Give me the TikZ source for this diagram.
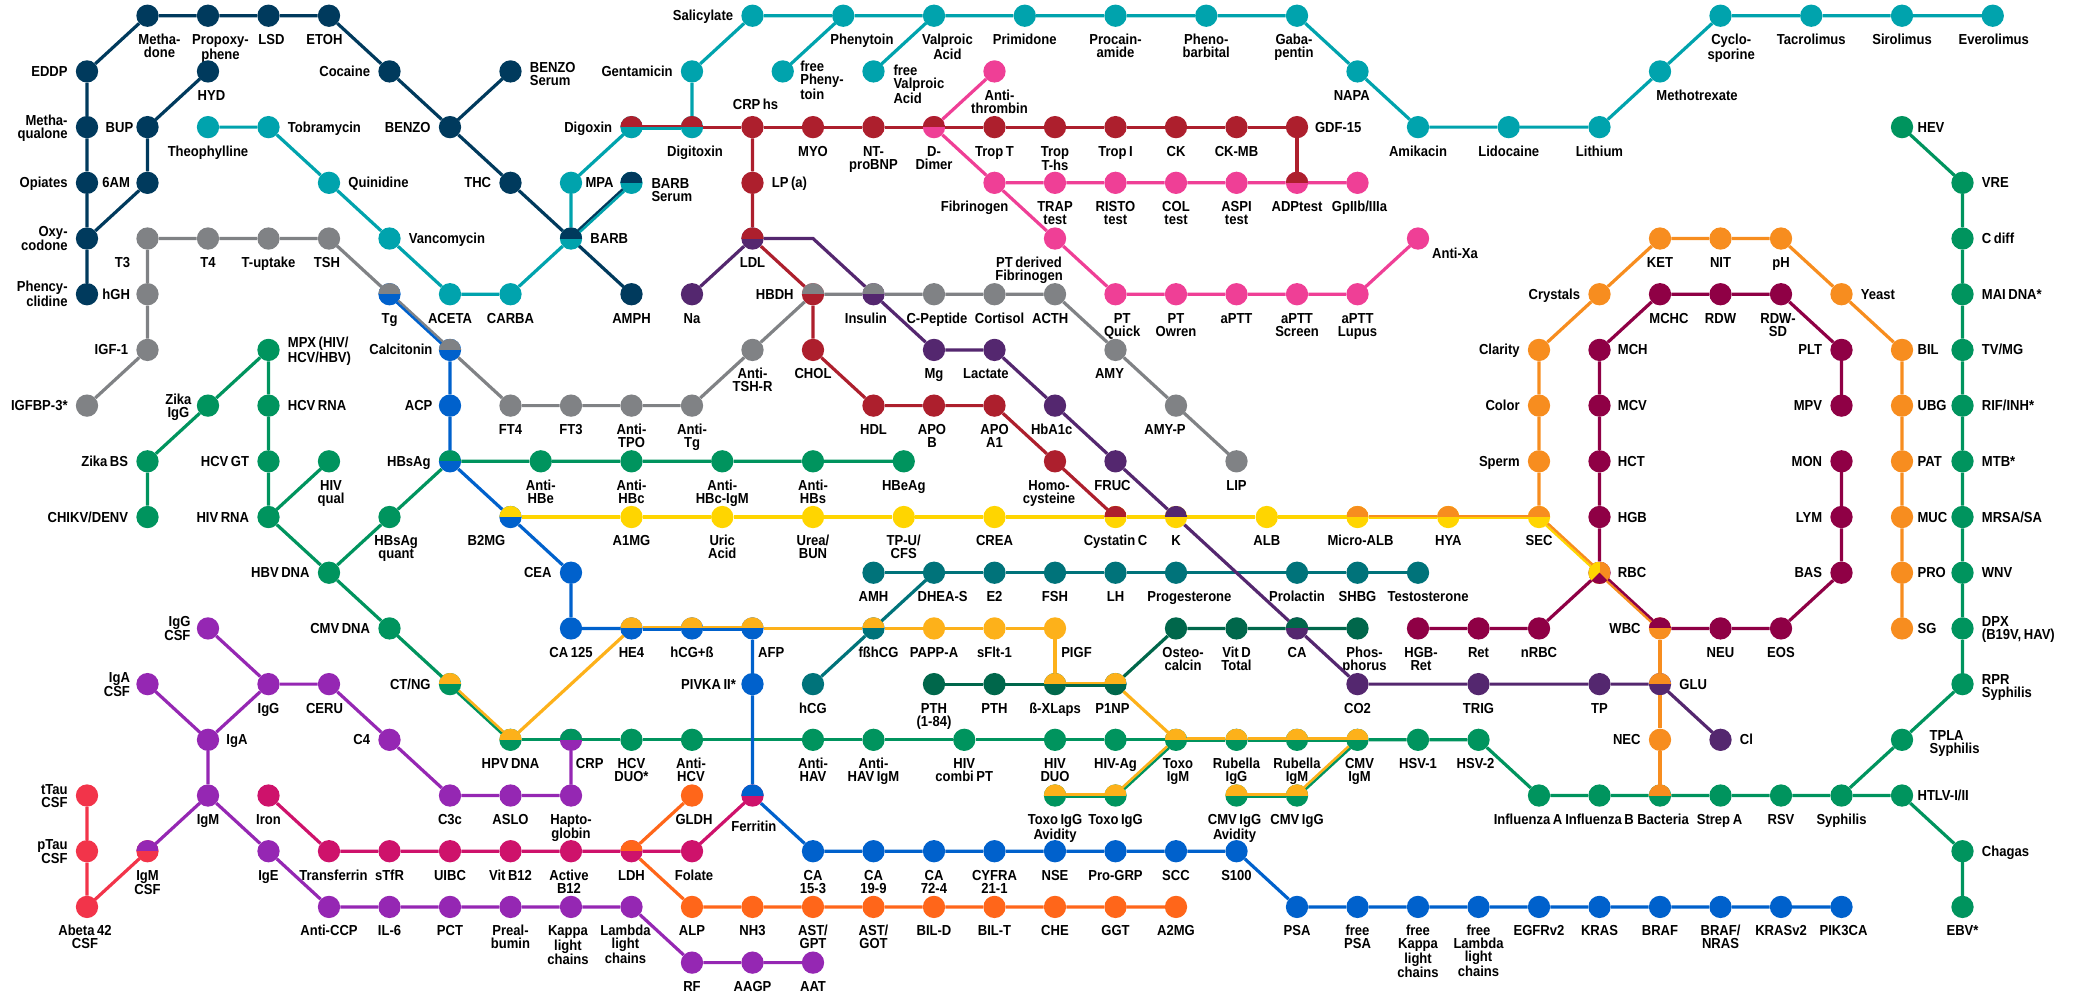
\documentclass[tikz,border=0pt]{standalone}
\usepackage{fontspec}
\setmainfont{Liberation Sans}[FakeStretch=0.9,WordSpace=0.7]
\newcommand{\labfont}{\fontsize{14.5}{13}\selectfont\bfseries}
\newcommand{\labtop}{\rule{0pt}{13pt}}
\newcommand{\labbot}{\rule[-3pt]{0pt}{3pt}}
\definecolor{cnavy}{HTML}{003A5D}
\definecolor{cteal}{HTML}{00A3AD}
\definecolor{ccrim}{HTML}{AD1F2D}
\definecolor{cpink}{HTML}{EF3F96}
\definecolor{cgray}{HTML}{808285}
\definecolor{cblue}{HTML}{0061CC}
\definecolor{cgreen}{HTML}{00945E}
\definecolor{cyell}{HTML}{FFD500}
\definecolor{cdpur}{HTML}{54276F}
\definecolor{camber}{HTML}{FDB11A}
\definecolor{cdteal}{HTML}{00737A}
\definecolor{cdgreen}{HTML}{00674B}
\definecolor{cwine}{HTML}{8F0045}
\definecolor{corange}{HTML}{F78D1F}
\definecolor{cpurple}{HTML}{9527B3}
\definecolor{cmag}{HTML}{CE126B}
\definecolor{cbright}{HTML}{FF661A}
\definecolor{cred}{HTML}{F2344A}
\tikzset{
  stbase/.style={circle,minimum size=22.3pt,inner sep=0pt},
  st/.style={stbase,fill=#1},
  duo/.style 2 args={stbase,fill=#2,path picture={\fill[#1] (path picture bounding box.north west) rectangle (path picture bounding box.east);}},
  lab/.style={font=\labfont,align=center,inner sep=0pt},
  lb/.style={label={[lab,label distance=4.35pt]below:{\labtop #1\labbot}}},
  lbx/.style 2 args={label={[lab,label distance=4.35pt,xshift=#1]below:{\labtop #2\labbot}}},
  lr/.style={label={[lab,align=left,label distance=7.85pt]right:{\labtop #1\labbot}}},
  lrd/.style 2 args={label={[lab,align=left,label distance=#1]right:{\labtop #2\labbot}}},
  ll/.style={label={[lab,align=right,label distance=7.85pt]left:{\labtop #1\labbot}}},
  lld/.style 2 args={label={[lab,align=right,label distance=#1]left:{\labtop #2\labbot}}},
  tag/.style n args={3}{label={[lab,#2]#1:{\labtop #3\labbot}}},
  ln/.style={line width=3.2pt,draw=#1,shorten <=-0.5pt,shorten >=-0.5pt},
  off/.style 2 args={line width=2.5pt,transform canvas={shift={(#1pt,#2pt)}}},
  hitop/.style={off={0}{1.2}},
  hibot/.style={off={0}{-1.2}},
  nwup/.style={off={0.8}{0.9}},
  nwdn/.style={off={-0.8}{-0.9}},
  neup/.style={off={-0.8}{0.9}},
  nedn/.style={off={0.8}{-0.9}},
}
\begin{document}
\begin{tikzpicture}[x=60.5pt,y=-55.7pt]
  \useasboundingbox (-1.438,-0.282) rectangle (32.909,17.582);
  % drugs of abuse
  \node[st=cnavy,lbx={12pt}{Metha-\\done}] (methadone) at (1,0) {};
  \node[st=cnavy,lbx={12.5pt}{Propoxy-\\phene}] (propoxy) at (2,0) {};
  \node[st=cnavy,lbx={3pt}{LSD}] (lsd) at (3,0) {};
  \node[st=cnavy,lbx={-4.5pt}{ETOH}] (etoh) at (4,0) {};
  \node[st=cnavy,ll={EDDP}] (eddp) at (0,1) {};
  \node[st=cnavy,ll={Metha-\\qualone}] (methaq) at (0,2) {};
  \node[st=cnavy,ll={Opiates}] (opiates) at (0,3) {};
  \node[st=cnavy,ll={Oxy-\\codone}] (oxy) at (0,4) {};
  \node[st=cnavy,ll={Phency-\\clidine}] (phency) at (0,5) {};
  \node[st=cnavy,lld={2.7pt}{BUP}] (bup) at (1,2) {};
  \node[st=cnavy,lbx={3.5pt}{HYD}] (hyd) at (2,1) {};
  \node[st=cnavy,lld={6pt}{6AM}] (sixam) at (1,3) {};
  \node[st=cnavy,ll={Cocaine}] (cocaine) at (5,1) {};
  \node[st=cnavy,ll={BENZO}] (benzo) at (6,2) {};
  \node[st=cnavy,tag={right}{align=left,label distance=7.85pt,yshift=-2.3pt}{BENZO\\Serum}] (benzoser) at (7,1) {};
  \node[st=cnavy,ll={THC}] (thc) at (7,3) {};
  \node[duo={cnavy}{cteal},lr={BARB}] (barb) at (8,4) {};
  \node[duo={cnavy}{cteal},tag={right}{align=left,label distance=8.45pt,yshift=-6.7pt}{BARB\\Serum}] (barbser) at (9,3) {};
  \node[st=cnavy,lb={AMPH}] (amph) at (9,5) {};
  % therapeutic drugs
  \node[st=cteal,lb={Theophylline}] (theo) at (2,2) {};
  \node[st=cteal,lr={Tobramycin}] (tobra) at (3,2) {};
  \node[st=cteal,lr={Quinidine}] (quini) at (4,3) {};
  \node[st=cteal,lr={Vancomycin}] (vanco) at (5,4) {};
  \node[st=cteal,lb={ACETA}] (aceta) at (6,5) {};
  \node[st=cteal,lb={CARBA}] (carba) at (7,5) {};
  \node[st=cteal,lrd={3pt}{MPA}] (mpa) at (8,3) {};
  \node[duo={ccrim}{cteal},ll={Digoxin}] (digoxin) at (9,2) {};
  \node[duo={ccrim}{cteal},lbx={3pt}{Digitoxin}] (digitox) at (10,2) {};
  \node[st=cteal,ll={Gentamicin}] (genta) at (10,1) {};
  \node[st=cteal,ll={Salicylate}] (salic) at (11,0) {};
  \node[st=cteal,lbx={18.7pt}{Phenytoin}] (pheny) at (12.5,0) {};
  \node[st=cteal,tag={right}{align=left,label distance=6pt,yshift=-9pt}{free\\Pheny-\\toin}] (freepheny) at (11.5,1) {};
  \node[st=cteal,lbx={13.4pt}{Valproic\\Acid}] (valpro) at (14,0) {};
  \node[st=cteal,tag={right}{align=left,label distance=8.45pt,yshift=-13pt}{free\\Valproic\\Acid}] (freevalpro) at (13,1) {};
  \node[st=cteal,lb={Primidone}] (primi) at (15.5,0) {};
  \node[st=cteal,lb={Procain-\\amide}] (procain) at (17,0) {};
  \node[st=cteal,lb={Pheno-\\barbital}] (pheno) at (18.5,0) {};
  \node[st=cteal,lbx={-3pt}{Gaba-\\pentin}] (gaba) at (20,0) {};
  \node[st=cteal,lbx={-5.7pt}{NAPA}] (napa) at (21,1) {};
  \node[st=cteal,lb={Amikacin}] (amika) at (22,2) {};
  \node[st=cteal,lb={Lidocaine}] (lido) at (23.5,2) {};
  \node[st=cteal,lb={Lithium}] (lith) at (25,2) {};
  \node[st=cteal,lbx={37pt}{Methotrexate}] (metho) at (26,1) {};
  \node[st=cteal,lbx={10.7pt}{Cyclo-\\sporine}] (cyclo) at (27,0) {};
  \node[st=cteal,lb={Tacrolimus}] (tacro) at (28.5,0) {};
  \node[st=cteal,lb={Sirolimus}] (siro) at (30,0) {};
  \node[st=cteal,lbx={1pt}{Everolimus}] (evero) at (31.5,0) {};
  % cardiac and lipids
  \node[st=ccrim,tag={above}{label distance=2.85pt,xshift=3pt}{CRP hs}] (crphs) at (11,2) {};
  \node[st=ccrim,lb={MYO}] (myo) at (12,2) {};
  \node[st=ccrim,lb={NT-\\proBNP}] (ntpro) at (13,2) {};
  \node[duo={ccrim}{cpink},lb={D-\\Dimer}] (ddimer) at (14,2) {};
  \node[st=ccrim,lb={Trop T}] (tropt) at (15,2) {};
  \node[st=ccrim,lb={Trop\\T-hs}] (tropths) at (16,2) {};
  \node[st=ccrim,lb={Trop I}] (tropi) at (17,2) {};
  \node[st=ccrim,lb={CK}] (ck) at (18,2) {};
  \node[st=ccrim,lb={CK-MB}] (ckmb) at (19,2) {};
  \node[st=ccrim,lrd={6.5pt}{GDF-15}] (gdf) at (20,2) {};
  \node[duo={ccrim}{cpink},lb={ADPtest}] (adp) at (20,3) {};
  \node[st=ccrim,lr={LP (a)}] (lpa) at (11,3) {};
  \node[duo={ccrim}{cdpur},lb={LDL}] (ldl) at (11,4) {};
  \node[duo={cgray}{ccrim},ll={HBDH}] (hbdh) at (12,5) {};
  \node[st=ccrim,lb={CHOL}] (chol) at (12,6) {};
  \node[st=ccrim,lb={HDL}] (hdl) at (13,7) {};
  \node[st=ccrim,lbx={-2pt}{APO\\B}] (apob) at (14,7) {};
  \node[st=ccrim,lb={APO\\A1}] (apoa) at (15,7) {};
  \node[st=ccrim,lbx={-6pt}{Homo-\\cysteine}] (homo) at (16,8) {};
  \node[duo={ccrim}{cyell},lb={Cystatin C}] (cystatin) at (17,9) {};
  % coagulation
  \node[st=cpink,lbx={5pt}{Anti-\\thrombin}] (antithr) at (15,1) {};
  \node[st=cpink,lbx={-20pt}{Fibrinogen}] (fibri) at (15,3) {};
  \node[st=cpink,lb={TRAP\\test}] (trap) at (16,3) {};
  \node[st=cpink,lb={RISTO\\test}] (risto) at (17,3) {};
  \node[st=cpink,lb={COL\\test}] (col) at (18,3) {};
  \node[st=cpink,lb={ASPI\\test}] (aspi) at (19,3) {};
  \node[st=cpink,lbx={2pt}{GpIIb/IIIa}] (gpiib) at (21,3) {};
  \node[st=cpink,lbx={-26pt}{PT derived\\Fibrinogen}] (ptfib) at (16,4) {};
  \node[st=cpink,lbx={6.7pt}{PT\\Quick}] (ptquick) at (17,5) {};
  \node[st=cpink,lb={PT\\Owren}] (ptowren) at (18,5) {};
  \node[st=cpink,lb={aPTT}] (aptt) at (19,5) {};
  \node[st=cpink,lb={aPTT\\Screen}] (apttscr) at (20,5) {};
  \node[st=cpink,lb={aPTT\\Lupus}] (apttlup) at (21,5) {};
  \node[st=cpink,tag={right}{align=left,label distance=2.6pt,yshift=-14.7pt}{Anti-Xa}] (antixa) at (22,4) {};
  % endocrine
  \node[st=cgray,lbx={-25pt}{T3}] (tthree) at (1,4) {};
  \node[st=cgray,lb={T4}] (tfour) at (2,4) {};
  \node[st=cgray,lb={T-uptake}] (tuptake) at (3,4) {};
  \node[st=cgray,lbx={-2pt}{TSH}] (tsh) at (4,4) {};
  \node[duo={cgray}{cblue},lb={Tg}] (tg) at (5,5) {};
  \node[duo={cgray}{cblue},lld={6pt}{Calcitonin}] (calci) at (6,6) {};
  \node[st=cgray,lld={6pt}{hGH}] (hgh) at (1,5) {};
  \node[st=cgray,ll={IGF-1}] (igf) at (1,6) {};
  \node[st=cgray,ll={IGFBP-3*}] (igfbp) at (0,7) {};
  \node[st=cgray,lb={FT4}] (ftfour) at (7,7) {};
  \node[st=cgray,lb={FT3}] (ftthree) at (8,7) {};
  \node[st=cgray,lb={Anti-\\TPO}] (antitpo) at (9,7) {};
  \node[st=cgray,lb={Anti-\\Tg}] (antitg) at (10,7) {};
  \node[st=cgray,lb={Anti-\\TSH-R}] (antitsh) at (11,6) {};
  \node[duo={cgray}{cdpur},lbx={-7.6pt}{Insulin}] (insulin) at (13,5) {};
  \node[st=cgray,lbx={3pt}{C-Peptide}] (cpep) at (14,5) {};
  \node[st=cgray,lbx={5pt}{Cortisol}] (cortisol) at (15,5) {};
  \node[st=cgray,lbx={-4.8pt}{ACTH}] (acth) at (16,5) {};
  \node[st=cgray,lbx={-6pt}{AMY}] (amy) at (17,6) {};
  \node[st=cgray,lbx={-11pt}{AMY-P}] (amyp) at (18,7) {};
  \node[st=cgray,lb={LIP}] (lip) at (19,8) {};
  % electrolytes
  \node[st=cdpur,lb={Na}] (na) at (10,5) {};
  \coordinate (ldlbend) at (12,4);
  \node[st=cdpur,lb={Mg}] (mg) at (14,6) {};
  \node[st=cdpur,lbx={-8.6pt}{Lactate}] (lactate) at (15,6) {};
  \node[st=cdpur,lbx={-3.3pt}{HbA1c}] (hba) at (16,7) {};
  \node[st=cdpur,lbx={-3pt}{FRUC}] (fruc) at (17,8) {};
  \node[duo={cdpur}{cyell},lb={K}] (kal) at (18,9) {};
  \node[duo={cdgreen}{cdpur},lb={CA}] (ca) at (20,11) {};
  \node[st=cdpur,lb={CO2}] (cotwo) at (21,12) {};
  \node[st=cdpur,lb={TRIG}] (trig) at (23,12) {};
  \node[st=cdpur,lb={TP}] (tp) at (25,12) {};
  \node[duo={corange}{cdpur},lr={GLU}] (glu) at (26,12) {};
  \node[st=cdpur,lr={Cl}] (cl) at (27,13) {};
  % tumour markers
  \node[st=cblue,lld={6pt}{ACP}] (acp) at (6,7) {};
  \node[duo={cgreen}{cblue},ll={HBsAg}] (hbsag) at (6,8) {};
  \node[duo={cyell}{cblue},lbx={-24pt}{B2MG}] (btwomg) at (7,9) {};
  \node[st=cblue,ll={CEA}] (cea) at (8,10) {};
  \node[st=cblue,lb={CA 125}] (caonetwo) at (8,11) {};
  \node[duo={camber}{cblue},lb={HE4}] (hefour) at (9,11) {};
  \node[duo={camber}{cblue},lb={hCG+ß}] (hcgb) at (10,11) {};
  \node[duo={camber}{cblue},lbx={18.7pt}{AFP}] (afp) at (11,11) {};
  \node[st=cblue,lld={5pt}{PIVKA II*}] (pivka) at (11,12) {};
  \node[duo={cblue}{cmag},tag={below}{label distance=11pt,xshift=1.4pt}{Ferritin}] (ferritin) at (11,14) {};
  \node[st=cblue,lb={CA\\15-3}] (cafifteen) at (12,15) {};
  \node[st=cblue,lb={CA\\19-9}] (canineteen) at (13,15) {};
  \node[st=cblue,lb={CA\\72-4}] (caseventy) at (14,15) {};
  \node[st=cblue,lb={CYFRA\\21-1}] (cyfra) at (15,15) {};
  \node[st=cblue,lb={NSE}] (nse) at (16,15) {};
  \node[st=cblue,lb={Pro-GRP}] (progrp) at (17,15) {};
  \node[st=cblue,lb={SCC}] (scc) at (18,15) {};
  \node[st=cblue,lb={S100}] (shundred) at (19,15) {};
  \node[st=cblue,lb={PSA}] (psa) at (20,16) {};
  \node[st=cblue,lb={free\\PSA}] (freepsa) at (21,16) {};
  \node[st=cblue,lb={free\\Kappa\\light\\chains}] (freekappa) at (22,16) {};
  \node[st=cblue,lb={free\\Lambda\\light\\chains}] (freelambda) at (23,16) {};
  \node[st=cblue,lb={EGFRv2}] (egfr) at (24,16) {};
  \node[st=cblue,lb={KRAS}] (kras) at (25,16) {};
  \node[st=cblue,lb={BRAF}] (braf) at (26,16) {};
  \node[st=cblue,lb={BRAF/\\NRAS}] (brafnras) at (27,16) {};
  \node[st=cblue,lb={KRASv2}] (krastwo) at (28,16) {};
  \node[st=cblue,lbx={2pt}{PIK3CA}] (pik) at (29,16) {};
  % infectious disease
  \node[st=cgreen,lr={MPX (HIV/\\HCV/HBV)}] (mpx) at (3,6) {};
  \node[st=cgreen,tag={left}{label distance=5pt}{Zika\\IgG}] (zikaigg) at (2,7) {};
  \node[st=cgreen,ll={Zika BS}] (zikabs) at (1,8) {};
  \node[st=cgreen,ll={CHIKV/DENV}] (chikv) at (1,9) {};
  \node[st=cgreen,lr={HCV RNA}] (hcvrna) at (3,7) {};
  \node[st=cgreen,ll={HCV GT}] (hcvgt) at (3,8) {};
  \node[st=cgreen,ll={HIV RNA}] (hivrna) at (3,9) {};
  \node[st=cgreen,lbx={2pt}{HIV\\qual}] (hivqual) at (4,8) {};
  \node[st=cgreen,ll={HBV DNA}] (hbvdna) at (4,10) {};
  \node[st=cgreen,lbx={6.7pt}{HBsAg\\quant}] (hbsquant) at (5,9) {};
  \node[st=cgreen,lb={Anti-\\HBe}] (antihbe) at (7.5,8) {};
  \node[st=cgreen,lb={Anti-\\HBc}] (antihbc) at (9,8) {};
  \node[st=cgreen,lb={Anti-\\HBc-IgM}] (antihbcm) at (10.5,8) {};
  \node[st=cgreen,lb={Anti-\\HBs}] (antihbs) at (12,8) {};
  \node[st=cgreen,lb={HBeAg}] (hbeag) at (13.5,8) {};
  \node[st=cgreen,ll={CMV DNA}] (cmvdna) at (5,11) {};
  \node[duo={camber}{cgreen},ll={CT/NG}] (ctng) at (6,12) {};
  \node[duo={camber}{cgreen},lb={HPV DNA}] (hpv) at (7,13) {};
  \node[duo={cgreen}{cpurple},lbx={18.7pt}{CRP}] (crp) at (8,13) {};
  \node[st=cgreen,lb={HCV\\DUO*}] (hcvduo) at (9,13) {};
  \node[st=cgreen,lbx={-1pt}{Anti-\\HCV}] (antihcv) at (10,13) {};
  \node[st=cgreen,lb={Anti-\\HAV}] (antihav) at (12,13) {};
  \node[st=cgreen,lb={Anti-\\HAV IgM}] (antihavm) at (13,13) {};
  \node[st=cgreen,lb={HIV\\combi PT}] (hivcombi) at (14.5,13) {};
  \node[st=cgreen,lb={HIV\\DUO}] (hivduo) at (16,13) {};
  \node[st=cgreen,lb={HIV-Ag}] (hivag) at (17,13) {};
  \node[duo={camber}{cgreen},lbx={2pt}{Toxo\\IgM}] (toxom) at (18,13) {};
  \node[duo={camber}{cgreen},lb={Rubella\\IgG}] (rubg) at (19,13) {};
  \node[duo={camber}{cgreen},lb={Rubella\\IgM}] (rubm) at (20,13) {};
  \node[duo={camber}{cgreen},lbx={2pt}{CMV\\IgM}] (cmvm) at (21,13) {};
  \node[st=cgreen,lb={HSV-1}] (hsvone) at (22,13) {};
  \node[st=cgreen,lbx={-3pt}{HSV-2}] (hsvtwo) at (23,13) {};
  \node[duo={camber}{cgreen},lb={Toxo IgG\\Avidity}] (toxoav) at (16,14) {};
  \node[duo={camber}{cgreen},lb={Toxo IgG}] (toxog) at (17,14) {};
  \node[duo={camber}{cgreen},lbx={-2pt}{CMV IgG\\Avidity}] (cmvav) at (19,14) {};
  \node[duo={camber}{cgreen},lb={CMV IgG}] (cmvg) at (20,14) {};
  \node[st=cgreen,lbx={-11pt}{Influenza A}] (flua) at (24,14) {};
  \node[st=cgreen,lb={Influenza B}] (flub) at (25,14) {};
  \node[duo={corange}{cgreen},lbx={3pt}{Bacteria}] (bact) at (26,14) {};
  \node[st=cgreen,lbx={-1pt}{Strep A}] (strep) at (27,14) {};
  \node[st=cgreen,lb={RSV}] (rsv) at (28,14) {};
  \node[st=cgreen,lb={Syphilis}] (syph) at (29,14) {};
  \node[st=cgreen,lrd={4pt}{HTLV-I/II}] (htlv) at (30,14) {};
  \node[st=cgreen,lr={Chagas}] (chagas) at (31,15) {};
  \node[st=cgreen,lb={EBV*}] (ebv) at (31,16) {};
  \node[st=cgreen,tag={right}{align=left,label distance=16pt,yshift=-2pt}{TPLA\\Syphilis}] (tpla) at (30,13) {};
  \node[st=cgreen,tag={right}{align=left,label distance=7.85pt,yshift=-2pt}{RPR\\Syphilis}] (rpr) at (31,12) {};
  \node[st=cgreen,lr={DPX\\(B19V, HAV)}] (dpx) at (31,11) {};
  \node[st=cgreen,lr={WNV}] (wnv) at (31,10) {};
  \node[st=cgreen,lr={MRSA/SA}] (mrsa) at (31,9) {};
  \node[st=cgreen,lr={MTB*}] (mtb) at (31,8) {};
  \node[st=cgreen,lr={RIF/INH*}] (rif) at (31,7) {};
  \node[st=cgreen,lr={TV/MG}] (tvmg) at (31,6) {};
  \node[st=cgreen,lr={MAI DNA*}] (mai) at (31,5) {};
  \node[st=cgreen,lr={C diff}] (cdiff) at (31,4) {};
  \node[st=cgreen,lr={VRE}] (vre) at (31,3) {};
  \node[st=cgreen,lrd={4pt}{HEV}] (hev) at (30,2) {};
  % prenatal and fertility
  \node[duo={camber}{cdteal},lbx={5pt}{fßhCG}] (fbhcg) at (13,11) {};
  \node[st=camber,lb={PAPP-A}] (papp) at (14,11) {};
  \node[st=camber,lb={sFlt-1}] (sflt) at (15,11) {};
  \node[st=camber,lbx={21.5pt}{PIGF}] (pigf) at (16,11) {};
  \node[st=cdteal,lb={AMH}] (amh) at (13,10) {};
  \node[st=cdteal,lbx={8.6pt}{DHEA-S}] (dhea) at (14,10) {};
  \node[st=cdteal,lb={E2}] (etwo) at (15,10) {};
  \node[st=cdteal,lb={FSH}] (fsh) at (16,10) {};
  \node[st=cdteal,lb={LH}] (lh) at (17,10) {};
  \node[st=cdteal,lbx={13.4pt}{Progesterone}] (proges) at (18,10) {};
  \node[st=cdteal,lb={Prolactin}] (prola) at (20,10) {};
  \node[st=cdteal,lb={SHBG}] (shbg) at (21,10) {};
  \node[st=cdteal,lbx={10pt}{Testosterone}] (testo) at (22,10) {};
  \node[st=cdteal,lb={hCG}] (hcg) at (12,12) {};
  % bone
  \node[st=cdgreen,lb={PTH\\(1-84)}] (pthlong) at (14,12) {};
  \node[st=cdgreen,lb={PTH}] (pth) at (15,12) {};
  \node[duo={camber}{cdgreen},lb={ß-XLaps}] (xlaps) at (16,12) {};
  \node[duo={camber}{cdgreen},lbx={-3pt}{P1NP}] (ponenp) at (17,12) {};
  \node[st=cdgreen,lbx={7pt}{Osteo-\\calcin}] (osteo) at (18,11) {};
  \node[st=cdgreen,lb={Vit D\\Total}] (vitd) at (19,11) {};
  \node[st=cdgreen,lbx={7pt}{Phos-\\phorus}] (phos) at (21,11) {};
  % renal
  \node[st=cyell,lb={A1MG}] (aonemg) at (9,9) {};
  \node[st=cyell,lb={Uric\\Acid}] (uric) at (10.5,9) {};
  \node[st=cyell,lb={Urea/\\BUN}] (urea) at (12,9) {};
  \node[st=cyell,lb={TP-U/\\CFS}] (tpu) at (13.5,9) {};
  \node[st=cyell,lb={CREA}] (crea) at (15,9) {};
  \node[st=cyell,lb={ALB}] (alb) at (19.5,9) {};
  \node[duo={corange}{cyell},lbx={3pt}{Micro-ALB}] (microalb) at (21,9) {};
  \node[duo={corange}{cyell},lb={HYA}] (hya) at (22.5,9) {};
  \node[duo={corange}{cyell},lb={SEC}] (sec) at (24,9) {};
  % urine
  \node[st=corange,lb={KET}] (ket) at (26,4) {};
  \node[st=corange,lb={NIT}] (nit) at (27,4) {};
  \node[st=corange,lb={pH}] (ph) at (28,4) {};
  \node[st=corange,ll={Crystals}] (crystals) at (25,5) {};
  \node[st=corange,ll={Clarity}] (clarity) at (24,6) {};
  \node[st=corange,ll={Color}] (color) at (24,7) {};
  \node[st=corange,ll={Sperm}] (sperm) at (24,8) {};
  \node[st=corange,lr={Yeast}] (yeast) at (29,5) {};
  \node[st=corange,lrd={4pt}{BIL}] (bil) at (30,6) {};
  \node[st=corange,lrd={4pt}{UBG}] (ubg) at (30,7) {};
  \node[st=corange,lrd={4pt}{PAT}] (pat) at (30,8) {};
  \node[st=corange,lrd={4pt}{MUC}] (muc) at (30,9) {};
  \node[st=corange,lrd={4pt}{PRO}] (pro) at (30,10) {};
  \node[st=corange,lrd={4pt}{SG}] (sg) at (30,11) {};
  \node[st=corange,ll={NEC}] (nec) at (26,13) {};
  % haematology
  \node[stbase,fill=cwine,lrd={6.85pt}{RBC},path picture={
    \fill[cyell] (path picture bounding box.north west) rectangle (path picture bounding box.south);
    \fill[corange] (path picture bounding box.north) rectangle (path picture bounding box.south east);
    \fill[cwine] (path picture bounding box.center)--(path picture bounding box.south west)--(path picture bounding box.south east)--cycle;}] (rbc) at (25,10) {};
  \node[duo={cwine}{corange},ll={WBC}] (wbc) at (26,11) {};
  \node[st=cwine,lbx={9pt}{MCHC}] (mchc) at (26,5) {};
  \node[st=cwine,lb={RDW}] (rdw) at (27,5) {};
  \node[st=cwine,lbx={-3pt}{RDW-\\SD}] (rdwsd) at (28,5) {};
  \node[st=cwine,lrd={6.85pt}{MCH}] (mch) at (25,6) {};
  \node[st=cwine,lrd={6.85pt}{MCV}] (mcv) at (25,7) {};
  \node[st=cwine,lrd={6.85pt}{HCT}] (hct) at (25,8) {};
  \node[st=cwine,lrd={6.85pt}{HGB}] (hgb) at (25,9) {};
  \node[st=cwine,ll={PLT}] (plt) at (29,6) {};
  \node[st=cwine,ll={MPV}] (mpv) at (29,7) {};
  \node[st=cwine,ll={MON}] (mon) at (29,8) {};
  \node[st=cwine,ll={LYM}] (lym) at (29,9) {};
  \node[st=cwine,ll={BAS}] (bas) at (29,10) {};
  \node[st=cwine,lb={nRBC}] (nrbc) at (24,11) {};
  \node[st=cwine,lb={Ret}] (ret) at (23,11) {};
  \node[st=cwine,lbx={3pt}{HGB-\\Ret}] (hgbret) at (22,11) {};
  \node[st=cwine,lb={NEU}] (neu) at (27,11) {};
  \node[st=cwine,lb={EOS}] (eos) at (28,11) {};
  % anaemia
  \node[st=cmag,lb={Iron}] (iron) at (3,14) {};
  \node[st=cmag,lbx={4.5pt}{Transferrin}] (transf) at (4,15) {};
  \node[st=cmag,lb={sTfR}] (stfr) at (5,15) {};
  \node[st=cmag,lb={UIBC}] (uibc) at (6,15) {};
  \node[st=cmag,lb={Vit B12}] (vitb) at (7,15) {};
  \node[st=cmag,lbx={-2pt}{Active\\B12}] (activeb) at (8,15) {};
  \node[duo={cbright}{cmag},lb={LDH}] (ldh) at (9,15) {};
  \node[st=cmag,lbx={2pt}{Folate}] (folate) at (10,15) {};
  % liver
  \node[st=cbright,lbx={2pt}{GLDH}] (gldh) at (10,14) {};
  \node[st=cbright,lb={ALP}] (alp) at (10,16) {};
  \node[st=cbright,lb={NH3}] (nhthree) at (11,16) {};
  \node[st=cbright,lb={AST/\\GPT}] (astgpt) at (12,16) {};
  \node[st=cbright,lb={AST/\\GOT}] (astgot) at (13,16) {};
  \node[st=cbright,lb={BIL-D}] (bild) at (14,16) {};
  \node[st=cbright,lb={BIL-T}] (bilt) at (15,16) {};
  \node[st=cbright,lb={CHE}] (che) at (16,16) {};
  \node[st=cbright,lb={GGT}] (ggt) at (17,16) {};
  \node[st=cbright,lb={A2MG}] (atwomg) at (18,16) {};
  % immunology
  \node[st=cpurple,lld={6pt}{IgG\\CSF}] (iggcsf) at (2,11) {};
  \node[st=cpurple,lb={IgG}] (igg) at (3,12) {};
  \node[st=cpurple,lbx={-4.5pt}{CERU}] (ceru) at (4,12) {};
  \node[st=cpurple,ll={C4}] (cfour) at (5,13) {};
  \node[st=cpurple,lb={C3c}] (cthree) at (6,14) {};
  \node[st=cpurple,lb={ASLO}] (aslo) at (7,14) {};
  \node[st=cpurple,lb={Hapto-\\globin}] (hapto) at (8,14) {};
  \node[st=cpurple,lld={6pt}{IgA\\CSF}] (igacsf) at (1,12) {};
  \node[st=cpurple,lrd={6.85pt}{IgA}] (iga) at (2,13) {};
  \node[st=cpurple,lb={IgM}] (igm) at (2,14) {};
  \node[duo={cpurple}{cred},lb={IgM\\CSF}] (igmcsf) at (1,15) {};
  \node[st=cpurple,lb={IgE}] (ige) at (3,15) {};
  \node[st=cpurple,lb={Anti-CCP}] (anticcp) at (4,16) {};
  \node[st=cpurple,lb={IL-6}] (ilsix) at (5,16) {};
  \node[st=cpurple,lb={PCT}] (pct) at (6,16) {};
  \node[st=cpurple,lb={Preal-\\bumin}] (preal) at (7,16) {};
  \node[st=cpurple,lbx={-3pt}{Kappa\\light\\chains}] (kappa) at (8,16) {};
  \node[st=cpurple,lbx={-6pt}{Lambda\\light\\chains}] (lambda) at (9,16) {};
  \node[st=cpurple,lb={RF}] (rf) at (10,17) {};
  \node[st=cpurple,lb={AAGP}] (aagp) at (11,17) {};
  \node[st=cpurple,lb={AAT}] (aat) at (12,17) {};
  % neurology
  \node[st=cred,ll={tTau\\CSF}] (ttau) at (0,14) {};
  \node[st=cred,ll={pTau\\CSF}] (ptau) at (0,15) {};
  \node[st=cred,lbx={-2pt}{Abeta 42\\CSF}] (abeta) at (0,16) {};

  % connectors
  \draw[ln=cnavy] (phency)--(oxy)--(opiates)--(methaq)--(eddp)--(methadone)--(propoxy)--(lsd)--(etoh)--(cocaine)--(benzo)--(thc)--(barb)--(amph);
  \draw[ln=cnavy] (oxy)--(sixam)--(bup)--(hyd);
  \draw[ln=cnavy] (benzo)--(benzoser);
  \draw[ln=cnavy,neup] (barb)--(barbser);
  \draw[ln=cteal,nedn] (barb)--(barbser);
  \draw[ln=cteal] (theo)--(tobra)--(quini)--(vanco)--(aceta)--(carba)--(barb)--(mpa)--(digoxin);
  \draw[ln=cteal,hibot] (digoxin)--(digitox);
  \draw[ln=ccrim,hitop] (digoxin)--(digitox);
  \draw[ln=cteal] (digitox)--(genta)--(salic)--(pheny)--(valpro)--(primi)--(procain)--(pheno)--(gaba)--(napa)--(amika)--(lido)--(lith)--(metho)--(cyclo)--(tacro)--(siro)--(evero);
  \draw[ln=cteal] (pheny)--(freepheny);
  \draw[ln=cteal] (valpro)--(freevalpro);
  \draw[ln=ccrim] (digitox)--(crphs)--(myo)--(ntpro)--(ddimer)--(tropt)--(tropths)--(tropi)--(ck)--(ckmb)--(gdf)--(adp);
  \draw[ln=ccrim] (crphs)--(lpa)--(ldl)--(hbdh)--(chol)--(hdl)--(apob)--(apoa)--(homo)--(cystatin);
  \draw[ln=cpink] (antithr)--(ddimer)--(fibri)--(trap)--(risto)--(col)--(aspi)--(adp)--(gpiib);
  \draw[ln=cpink] (fibri)--(ptfib)--(ptquick)--(ptowren)--(aptt)--(apttscr)--(apttlup)--(antixa);
  \draw[ln=cgray] (igfbp)--(igf)--(hgh)--(tthree)--(tfour)--(tuptake)--(tsh)--(tg);
  \draw[ln=cgray,nwup] (tg)--(calci);
  \draw[ln=cblue,nwdn] (tg)--(calci);
  \draw[ln=cgray] (calci)--(ftfour)--(ftthree)--(antitpo)--(antitg)--(antitsh)--(hbdh)--(insulin)--(cpep)--(cortisol)--(acth)--(amy)--(amyp)--(lip);
  \draw[ln=cgreen] (chikv)--(zikabs)--(zikaigg)--(mpx)--(hcvrna)--(hcvgt)--(hivrna)--(hbvdna)--(cmvdna)--(ctng);
  \draw[ln=cgreen] (hivrna)--(hivqual);
  \draw[ln=cgreen] (hbvdna)--(hbsquant)--(hbsag)--(antihbe)--(antihbc)--(antihbcm)--(antihbs)--(hbeag);
  \draw[ln=cgreen,nwdn] (ctng)--(hpv);
  \draw[ln=camber,nwup] (ctng)--(hpv);
  \draw[ln=cgreen] (hpv)--(crp)--(hcvduo)--(antihcv)--(antihav)--(antihavm)--(hivcombi)--(hivduo)--(hivag)--(toxom);
  \draw[ln=cgreen,hibot] (toxom)--(rubg)--(rubm)--(cmvm);
  \draw[ln=camber,hitop] (toxom)--(rubg)--(rubm)--(cmvm);
  \draw[ln=cgreen,nedn] (toxom)--(toxog);
  \draw[ln=camber,neup] (toxom)--(toxog);
  \draw[ln=cgreen,hibot] (toxog)--(toxoav);
  \draw[ln=camber,hitop] (toxog)--(toxoav);
  \draw[ln=cgreen,nedn] (cmvm)--(cmvg);
  \draw[ln=camber,neup] (cmvm)--(cmvg);
  \draw[ln=cgreen,hibot] (cmvg)--(cmvav);
  \draw[ln=camber,hitop] (cmvg)--(cmvav);
  \draw[ln=cgreen] (cmvm)--(hsvone)--(hsvtwo)--(flua)--(flub)--(bact)--(strep)--(rsv)--(syph)--(htlv)--(chagas)--(ebv);
  \draw[ln=cgreen] (syph)--(tpla)--(rpr)--(dpx)--(wnv)--(mrsa)--(mtb)--(rif)--(tvmg)--(mai)--(cdiff)--(vre)--(hev);
  \draw[ln=camber] (hpv)--(hefour);
  \draw[ln=cblue] (calci)--(acp)--(hbsag)--(btwomg)--(cea)--(caonetwo)--(hefour);
  \draw[ln=cblue,hibot] (hefour)--(hcgb)--(afp);
  \draw[ln=camber,hitop] (hefour)--(hcgb)--(afp);
  \draw[ln=camber] (afp)--(fbhcg)--(papp)--(sflt)--(pigf)--(xlaps);
  \draw[ln=cblue] (afp)--(pivka)--(ferritin)--(cafifteen)--(canineteen)--(caseventy)--(cyfra)--(nse)--(progrp)--(scc)--(shundred)--(psa)--(freepsa)--(freekappa)--(freelambda)--(egfr)--(kras)--(braf)--(brafnras)--(krastwo)--(pik);
  \draw[ln=cdteal] (amh)--(dhea)--(etwo)--(fsh)--(lh)--(proges)--(prola)--(shbg)--(testo);
  \draw[ln=cdteal] (hcg)--(fbhcg)--(dhea);
  \draw[ln=cdgreen] (pthlong)--(pth)--(xlaps);
  \draw[ln=cdgreen,hibot] (xlaps)--(ponenp);
  \draw[ln=camber,hitop] (xlaps)--(ponenp);
  \draw[ln=cdgreen] (ponenp)--(osteo)--(vitd)--(ca)--(phos);
  \draw[ln=camber] (ponenp)--(toxom);
  \draw[ln=cdpur] (na)--(ldl)--(ldlbend)--(insulin)--(mg)--(lactate)--(hba)--(fruc)--(kal)--(ca)--(cotwo)--(trig)--(tp)--(glu)--(cl);
  \draw[ln=cyell] (btwomg)--(aonemg)--(uric)--(urea)--(tpu)--(crea)--(cystatin)--(kal)--(alb)--(microalb);
  \draw[ln=cyell,hibot] (microalb)--(hya)--(sec);
  \draw[ln=corange,hitop] (microalb)--(hya)--(sec);
  \draw[ln=cyell,nwdn] (sec)--(rbc);
  \draw[ln=corange,nwup] (sec)--(rbc);
  \draw[ln=corange,nwdn] (rbc)--(wbc);
  \draw[ln=cwine,nwup] (rbc)--(wbc);
  \draw[ln=corange] (sec)--(sperm)--(color)--(clarity)--(crystals)--(ket)--(nit)--(ph)--(yeast)--(bil)--(ubg)--(pat)--(muc)--(pro)--(sg);
  \draw[ln=corange] (wbc)--(glu)--(nec)--(bact);
  \draw[ln=cwine] (hgbret)--(ret)--(nrbc)--(rbc)--(hgb)--(hct)--(mcv)--(mch)--(mchc)--(rdw)--(rdwsd)--(plt)--(mpv);
  \draw[ln=cwine] (wbc)--(neu)--(eos)--(bas)--(lym)--(mon);
  \draw[ln=cmag] (iron)--(transf)--(stfr)--(uibc)--(vitb)--(activeb)--(ldh)--(folate)--(ferritin);
  \draw[ln=cbright] (gldh)--(ldh)--(alp)--(nhthree)--(astgpt)--(astgot)--(bild)--(bilt)--(che)--(ggt)--(atwomg);
  \draw[ln=cpurple] (iggcsf)--(igg)--(ceru)--(cfour)--(cthree)--(aslo)--(hapto)--(crp);
  \draw[ln=cpurple] (igg)--(iga)--(igacsf);
  \draw[ln=cpurple] (iga)--(igm)--(igmcsf);
  \draw[ln=cpurple] (igm)--(ige)--(anticcp)--(ilsix)--(pct)--(preal)--(kappa)--(lambda)--(rf)--(aagp)--(aat);
  \draw[ln=cred] (ttau)--(ptau)--(abeta)--(igmcsf);
\end{tikzpicture}
\end{document}
